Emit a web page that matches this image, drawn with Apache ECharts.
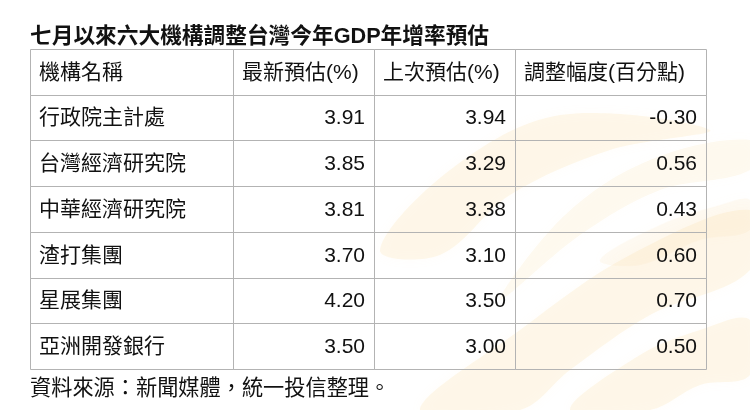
<!DOCTYPE html>
<html>
<head>
<meta charset="utf-8">
<script src="https://cdn.jsdelivr.net/npm/echarts@6/dist/echarts.min.js"></script>
<style>
html,body{margin:0;padding:0;background:#fff;}
#chart{width:750px;height:410px;}
</style>
</head>
<body>
<div id="chart"></div>
<script>
const titleText = '七月以來六大機構調整台灣今年GDP年增率預估';
const sourceText = '資料來源：新聞媒體，統一投信整理。';
const columns = ['機構名稱', '最新預估(%)', '上次預估(%)', '調整幅度(百分點)'];
const institutions = ['行政院主計處', '台灣經濟研究院', '中華經濟研究院', '渣打集團', '星展集團', '亞洲開發銀行'];
const latest = [3.91, 3.85, 3.81, 3.70, 4.20, 3.50];
const previous = [3.94, 3.29, 3.38, 3.10, 3.50, 3.00];
const adjustment = [-0.30, 0.56, 0.43, 0.60, 0.70, 0.50];

// layout (not data)
const colEdges = [0, 203, 344, 485, 676];
const FONT = '"Liberation Sans", "Noto Sans CJK TC", sans-serif';

const rowLabels = [columns[0]].concat(institutions);
const cells = [];
columns.forEach((h, c) => cells.push({c: c, r: 0, text: h, align: 'left'}));
institutions.forEach((name, i) => {
  const r = i + 1;
  cells.push({c: 0, r: r, text: name, align: 'left'});
  cells.push({c: 1, r: r, text: latest[i].toFixed(2), align: 'right'});
  cells.push({c: 2, r: r, text: previous[i].toFixed(2), align: 'right'});
  cells.push({c: 3, r: r, text: adjustment[i].toFixed(2), align: 'right'});
});

const chart = echarts.init(document.getElementById('chart'));
const wm = 'rgba(250,222,170,0.22)';
const wmBlur = {shadowBlur: 12, shadowColor: 'rgba(250,222,170,0.25)'};
chart.setOption({
  backgroundColor: '#fff',
  animation: false,
  title: [
    {text: titleText, left: 30, top: 26, padding: 0,
     textStyle: {fontFamily: FONT, fontSize: 21.7, fontWeight: 'bold', color: '#111'}},
    {text: sourceText, left: 30, top: 379, padding: 0,
     textStyle: {fontFamily: FONT, fontSize: 21.2, fontWeight: 'normal', color: '#111'}}
  ],
  graphic: [
    {type: 'polygon', z: -10, silent: true,
     shape: {smooth: 0.35, points: [[420,410],[520,330],[630,255],[750,210],[750,270],[650,315],[570,370],[520,410]]},
     style: Object.assign({fill: wm}, wmBlur)},
    {type: 'polygon', z: -10, silent: true,
     shape: {smooth: 0.35, points: [[380,250],[450,170],[560,115],[710,130],[610,150],[510,195],[440,255]]},
     style: Object.assign({fill: wm}, wmBlur)},
    {type: 'polygon', z: -10, silent: true,
     shape: {smooth: 0.35, points: [[570,410],[640,355],[700,330],[750,320],[750,375],[700,385],[650,410]]},
     style: Object.assign({fill: wm}, wmBlur)},
    {type: 'polygon', z: -10, silent: true,
     shape: {smooth: 0.35, points: [[500,300],[580,235],[660,190],[750,170],[750,140],[650,160],[565,215]]},
     style: Object.assign({fill: 'rgba(250,222,170,0.16)'}, wmBlur)},
    {type: 'polygon', z: -10, silent: true,
     shape: {smooth: 0.35, points: [[600,260],[660,225],[720,205],[750,200],[750,230],[700,240],[640,265]]},
     style: Object.assign({fill: 'rgba(250,222,170,0.14)'}, wmBlur)}
  ],
  grid: {left: 30, top: 49, width: 676, height: 320, containLabel: false},
  xAxis: {type: 'value', min: colEdges[0], max: colEdges[colEdges.length - 1], show: false},
  yAxis: {type: 'category', data: rowLabels, inverse: true, show: false},
  series: [{
    type: 'custom',
    silent: true,
    encode: {x: 0, y: 1},
    data: cells.map(d => [colEdges[d.c], d.r]),
    renderItem: function (params, api) {
      const d = cells[params.dataIndex];
      const yc = api.coord([0, d.r])[1];
      const h = api.size([0, 1])[1];
      const x0 = api.coord([colEdges[d.c], d.r])[0];
      const x1 = api.coord([colEdges[d.c + 1], d.r])[0];
      const top = Math.round(yc - h / 2) + 0.5;
      const bottom = Math.round(yc + h / 2) + 0.5;
      const left = Math.round(x0) + 0.5;
      const right = Math.round(x1) + 0.5;
      return {
        type: 'group',
        children: [
          {type: 'rect', shape: {x: left, y: top, width: right - left, height: bottom - top},
           style: {fill: 'rgba(255,255,255,0)', stroke: '#b3b3b3', lineWidth: 1}},
          {type: 'text', style: {
            text: d.text,
            x: d.align === 'left' ? x0 + 9 : x1 - 9,
            y: yc + 1,
            align: d.align,
            verticalAlign: 'middle',
            font: '21px ' + FONT,
            fill: '#111'
          }}
        ]
      };
    }
  }]
});
</script>
</body>
</html>
